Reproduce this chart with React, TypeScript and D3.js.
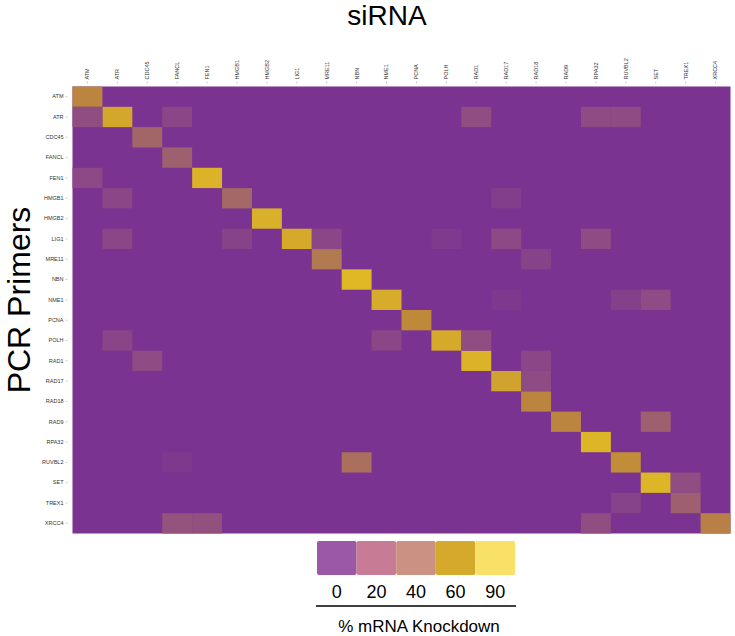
import React, { useEffect, useRef } from 'react'
import * as d3 from 'd3'

// genes used both as siRNA (columns) and PCR primers (rows)
const genes = [
  'ATM', 'ATR', 'CDC45', 'FANCL', 'FEN1', 'HMGB1', 'HMGB2', 'LIG1', 'MRE11', 'NBN', 'NME1',
  'PCNA', 'POLH', 'RAD1', 'RAD17', 'RAD18', 'RAD9', 'RPA32', 'RUVBL2', 'SET', 'TREX1', 'XRCC4',
]

// % knockdown when siRNA and primer are the same gene
const onTarget = [50, 65, 32, 28, 75, 33, 73, 68, 45, 80, 70, 52, 68, 75, 63, 50, 50, 78, 54, 78, 28, 48]

// [primer, siRNA, % knockdown] for the off-diagonal cells
const offTarget: [string, string, number][] = [
  ['ATR', 'ATM', 16], ['ATR', 'FANCL', 12], ['ATR', 'RAD1', 16], ['ATR', 'RPA32', 15], ['ATR', 'RUVBL2', 15],
  ['FEN1', 'ATM', 14],
  ['HMGB1', 'ATR', 12], ['HMGB1', 'RAD17', 7],
  ['LIG1', 'ATR', 12], ['LIG1', 'HMGB1', 10], ['LIG1', 'MRE11', 12], ['LIG1', 'POLH', 4], ['LIG1', 'RAD17', 14], ['LIG1', 'RPA32', 15],
  ['MRE11', 'RAD18', 10],
  ['NME1', 'RAD17', 3], ['NME1', 'RUVBL2', 8], ['NME1', 'SET', 15],
  ['POLH', 'ATR', 11], ['POLH', 'NME1', 12], ['POLH', 'RAD1', 16],
  ['RAD1', 'CDC45', 15], ['RAD1', 'RAD18', 12],
  ['RAD17', 'RAD18', 15],
  ['RAD9', 'SET', 28],
  ['RUVBL2', 'FANCL', 3], ['RUVBL2', 'NBN', 38],
  ['SET', 'TREX1', 16],
  ['TREX1', 'RUVBL2', 10],
  ['XRCC4', 'FANCL', 20], ['XRCC4', 'FEN1', 18], ['XRCC4', 'RPA32', 16],
]

// legend swatches
const legendLabels = ['0', '20', '40', '60', '90']
const legendColors = ['#9a58a6', '#c77b95', '#cb9182', '#d5a92c', '#f9e066']

const App = () => {
  const svgRef = useRef<SVGSVGElement>(null)

  useEffect(() => {
    const width = 735
    const height = 636
    const left = 72.5
    const right = 730.5
    const top = 86.5
    const bottom = 533.5
    const font = 'Liberation Sans, Arial, sans-serif'

    const svg = d3.select(svgRef.current)
    svg.selectAll('*').remove()
    svg.attr('width', width).attr('height', height).attr('viewBox', [0, 0, width, height])

    const x = d3.scaleBand().domain(genes).range([left, right]).padding(0)
    const y = d3.scaleBand().domain(genes).range([top, bottom]).padding(0)

    const color = d3
      .scaleLinear<string>()
      .domain([0, 15, 30, 45, 52, 65, 80])
      .range(['#7a3391', '#8e4b84', '#a0636c', '#b27a50', '#bf893a', '#d3a62c', '#dfb826'])
      .clamp(true)

    const cells = genes.map((g, i) => ({ row: g, col: g, value: onTarget[i] }))
      .concat(offTarget.map(([row, col, value]) => ({ row, col, value })))

    // background = 0 knockdown
    svg
      .append('rect')
      .attr('x', left)
      .attr('y', top)
      .attr('width', right - left)
      .attr('height', bottom - top)
      .attr('fill', color(0))

    svg
      .append('g')
      .selectAll('rect')
      .data(cells)
      .join('rect')
      .attr('x', (d) => x(d.col)!)
      .attr('y', (d) => y(d.row)!)
      .attr('width', x.bandwidth())
      .attr('height', y.bandwidth())
      .attr('fill', (d) => color(d.value))

    // siRNA axis on top
    svg
      .append('g')
      .attr('transform', `translate(0,${top - 3})`)
      .call(d3.axisTop(x).tickSize(2).tickPadding(2))
      .call((g) => g.select('.domain').remove())
      .call((g) => g.selectAll('.tick line').attr('stroke', '#999').attr('stroke-width', 0.5))
      .call((g) =>
        g
          .selectAll('.tick text')
          .attr('transform', 'rotate(-90)')
          .attr('x', 4)
          .attr('y', 0)
          .attr('dy', '0.35em')
          .attr('text-anchor', 'start')
          .attr('fill', '#333')
          .style('font-family', font)
          .style('font-size', '5.5px')
      )

    // primer axis on the left
    svg
      .append('g')
      .attr('transform', `translate(${left - 5},0)`)
      .call(d3.axisLeft(y).tickSize(2).tickPadding(2))
      .call((g) => g.select('.domain').remove())
      .call((g) => g.selectAll('.tick line').attr('stroke', '#999').attr('stroke-width', 0.5))
      .call((g) =>
        g
          .selectAll('.tick text')
          .attr('fill', '#333')
          .style('font-family', font)
          .style('font-size', '5.5px')
      )

    svg
      .append('text')
      .attr('x', 387)
      .attr('y', 25)
      .attr('text-anchor', 'middle')
      .style('font-family', font)
      .style('font-size', '28px')
      .text('siRNA')

    svg
      .append('text')
      .attr('transform', `translate(30,300) rotate(-90)`)
      .attr('text-anchor', 'middle')
      .style('font-family', font)
      .style('font-size', '32px')
      .text('PCR Primers')

    // legend
    const lx = d3.scaleBand().domain(legendLabels).range([317, 515]).padding(0)
    const legend = svg.append('g')
    legend
      .selectAll('rect')
      .data(legendLabels)
      .join('rect')
      .attr('x', (d) => lx(d)!)
      .attr('y', 541)
      .attr('width', lx.bandwidth())
      .attr('height', 34)
      .attr('rx', 2)
      .attr('fill', (d, i) => legendColors[i])
    legend
      .selectAll('text.tick')
      .data(legendLabels)
      .join('text')
      .attr('class', 'tick')
      .attr('x', (d) => lx(d)! + lx.bandwidth() / 2)
      .attr('y', 598)
      .attr('text-anchor', 'middle')
      .style('font-family', font)
      .style('font-size', '18px')
      .text((d) => d)
    legend
      .append('line')
      .attr('x1', 316)
      .attr('x2', 516)
      .attr('y1', 606)
      .attr('y2', 606)
      .attr('stroke', '#000')
      .attr('stroke-width', 1.5)
    legend
      .append('text')
      .attr('x', 419)
      .attr('y', 632)
      .attr('text-anchor', 'middle')
      .style('font-family', font)
      .style('font-size', '17px')
      .text('% mRNA Knockdown')
  }, [])

  return <svg ref={svgRef} style={{ position: 'absolute', left: 0, top: 0, background: '#fff' }}></svg>
}

export default App
